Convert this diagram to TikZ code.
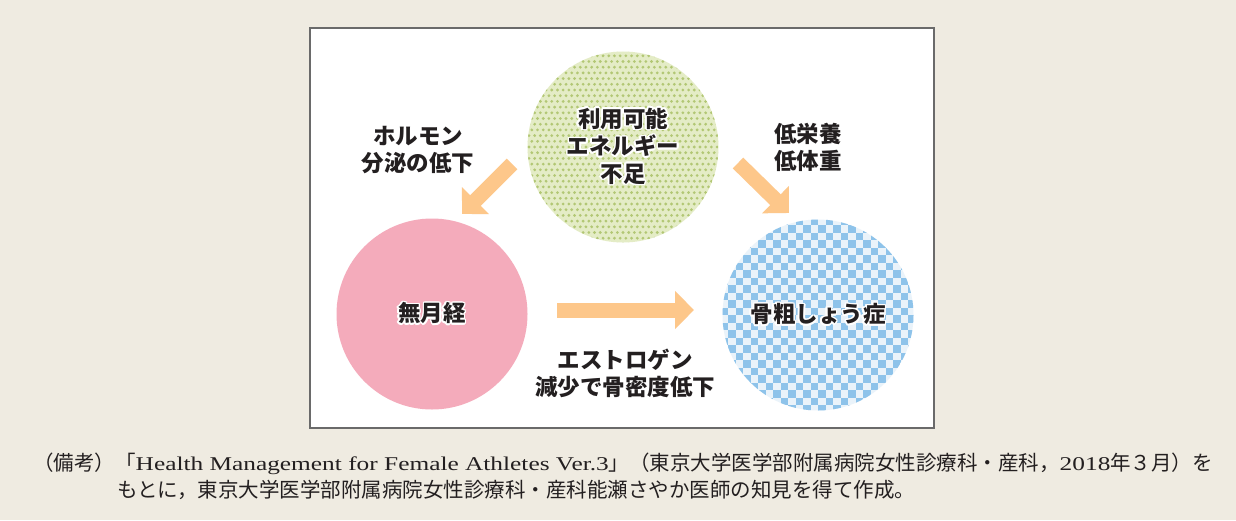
\documentclass[tikz,border=0pt]{standalone}
\usepackage{fontspec}
\usepackage{contour}
\usetikzlibrary{arrows.meta,calc}
\newfontfamily\cjk{Noto Sans CJK JP}
\newfontfamily\capen[FakeStretch=1.3]{Liberation Serif}
\definecolor{bgc}{HTML}{EFEBE1}
\definecolor{framec}{HTML}{6A6A6A}
\definecolor{gbg}{HTML}{E4ECC6}
\definecolor{gdot}{HTML}{B2C774}
\definecolor{pinkc}{HTML}{F4ABBB}
\definecolor{bluec}{HTML}{8EC3EA}
\definecolor{bluel}{HTML}{EAF3FA}
\definecolor{arrc}{HTML}{FDC78A}
\definecolor{txt}{HTML}{231F20}
\contourlength{1.6pt}
\newcommand\hl[1]{\contour{white}{#1}}
\tikzset{
  circnode/.style={circle, minimum size=191pt, inner sep=0pt, align=center,
    font=\cjk\bfseries\fontsize{22.5}{27.5}\selectfont, text=txt},
  lbl/.style={align=center, inner sep=0pt, font=\cjk\bfseries\fontsize{22.5}{27}\selectfont, text=txt},
  bigarrow/.style={draw=arrc, line width=15pt, -{Triangle[width=37pt,length=19pt]}, fill=arrc},
  capline/.style={anchor=base west, inner sep=0pt, text=txt, font=\cjk\fontsize{20.5}{24}\selectfont},
}
\begin{document}
\begin{tikzpicture}[x=1pt,y=-1pt]
\fill[bgc] (0,0) rectangle (1236,520);
\useasboundingbox (0,0) rectangle (1236,520);
\draw[framec, fill=white, line width=1.4pt] (310,28) rectangle (934,428);

% green dotted circle
\node[circnode, fill=gbg, path picture={
  \foreach \i in {0,...,34}{\foreach \j in {0,...,34}{
    \fill[gdot] ($(path picture bounding box.center)+({(\i-17)*5.7+mod(\j,2)*2.85},{(\j-17)*5.7})$) circle (1.55pt);
  }}}] (energy) at (623,147) {\hl{利用可能}\\\hl{エネルギー}\\\hl{不足}};

% pink circle
\node[circnode, fill=pinkc] (amen) at (432,314) {\hl{無月経}};

% blue checkered circle
\node[circnode, fill=bluel, path picture={
  \foreach \i in {0,...,25}{\foreach \j in {0,...,12}{
    \fill[bluec] ($(path picture bounding box.center)+({(\i-13)*7.5},{(2*\j+mod(\i,2)-13)*7.5})$) rectangle +(7.5,7.5);
  }}}] (osteo) at (818,315) {\hl{骨粗しょう症}};

% arrows
\coordinate (l1) at (512,164);
\coordinate (l2) at (462,214);
\coordinate (r1) at (738,163);
\coordinate (r2) at (789,213);
\coordinate (h1) at (557,310);
\coordinate (h2) at (694,310);
\draw[bigarrow] (l1) -- (l2);
\draw[bigarrow] (r1) -- (r2);
\draw[bigarrow] (h1) -- (h2);

% labels
\node[lbl] (hormone) at (418,150) {ホルモン\\分泌の低下};
\node[lbl] (nutri) at (808,147) {低栄養\\低体重};
\node[lbl] (estro) at (625,373) {エストロゲン\\減少で骨密度低下};

% caption
\node[capline] (cap1) at (33,470) {（備考）「{\capen\fontsize{19.5}{24}\selectfont Health Management for Female Athletes Ver.3}」（東京大学医学部附属病院女性診療科・産科，{\capen\fontsize{19.5}{24}\selectfont 2018}年３月）を};
\node[capline] (cap2) at (117,497) {もとに，東京大学医学部附属病院女性診療科・産科能瀬さやか医師の知見を得て作成。};
\end{tikzpicture}
\end{document}
